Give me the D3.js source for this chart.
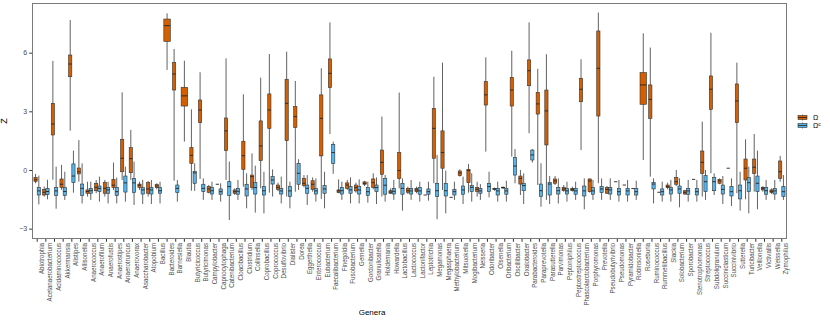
<!DOCTYPE html>
<html>
<head>
<meta charset="utf-8">
<script src="https://cdn.jsdelivr.net/npm/d3@7"></script>
<style>
  body { margin: 0; background: #fff; }
  svg { display: block; font-family: "Liberation Sans", Arial, sans-serif; }
</style>
</head>
<body>
<div class="canva"></div>
<script>
const genera = ["Abiotrophia","Acetanaerobacterium","Acidaminococcus","Akkermansia","Alistipes","Allisonella",
  "Anaerococcus","Anaerofilum","Anaerofustis","Anaerostipes","Anaerotruncus","Anaerovorax","Asaccharobacter",
  "Atopobium","Bacillus","Bacteroides","Barnesiella","Blautia","Butyricicoccus","Butyricimonas","Campylobacter",
  "Capnocytophaga","Catenibacterium","Cloacibacillus","Clostridium","Collinsella","Coprobacillus","Coprococcus",
  "Desulfovibrio","Dialister","Dorea","Eggerthella","Enterococcus","Eubacterium","Faecalibacterium","Finegoldia",
  "Fusobacterium","Gemella","Gordonibacter","Granulicatella","Holdemania","Howardella","Lactobacillus",
  "Lactococcus","Lactonifactor","Leptotrichia","Megamonas","Megasphaera","Methylobacterium","Mitsuokella",
  "Mogibacterium","Neisseria","Odoribacter","Olsenella","Oribacterium","Oscillibacter","Oxalobacter",
  "Parabacteroides","Paraprevotella","Parasutterella","Parvimonas","Peptoniphilus","Peptostreptococcus",
  "Phascolarctobacterium","Porphyromonas","Prevotella","Pseudobutyrivibrio","Pseudomonas","Pyramidobacter",
  "Robinsoniella","Roseburia","Ruminococcus","Rummeliibacillus","Slackia","Solobacterium","Sporobacter",
  "Stenotrophomonas","Streptococcus","Subdoligranulum","Succiniclasticum","Succinivibrio","Sutterella",
  "Turicibacter","Veillonella","Victivallis","Weissella","Zymophilus"];

// [lower whisker, q1, median, q3, upper whisker]; null = genus not seen in that group
const omega = [
  [-0.68,-0.58,-0.5,-0.38,-0.2], [-1.36,-1.28,-1.14,-0.99,-0.85], [-0.5,1.79,2.35,3.41,5.58],
  [-1.02,-0.89,-0.73,-0.46,0.26], [2.01,4.77,5.42,5.88,7.67], [-0.6,-0.2,-0.09,0.1,1.53],
  [-1.36,-1.19,-1.1,-1.02,-0.6], [-1.19,-1.06,-0.89,-0.68,-0.51], [-1.36,-1.19,-0.94,-0.63,-0.51],
  [-1.02,-0.89,-0.78,-0.48,0.38], [-0.51,-0.09,0.6,1.57,3.97], [-0.51,-0.14,0.58,1.14,2.05],
  [-1.02,-0.89,-0.78,-0.72,-0.6], [-1.36,-1.19,-0.97,-0.65,-0.56], [-0.99,-0.9,-0.82,-0.75,-0.68],
  [5.12,6.58,7.38,7.72,8.01], [-0.55,4.09,4.91,5.49,6.19], [1.45,3.27,3.79,4.23,5.59],
  [-1.06,0.34,0.75,1.14,3.1], [-0.46,2.42,3.07,3.58,5.0], [-1.19,-1.14,-0.97,-0.85,-0.77],
  [-0.73,-0.73,-0.73,-0.73,-0.73], [-0.51,0.99,2.0,2.66,5.71], [-1.28,-1.19,-1.11,-1.02,-0.94],
  [-0.85,0.03,0.73,1.47,3.87], [-1.02,-0.89,-0.34,-0.26,0.85], [-0.94,0.48,1.23,2.51,4.72],
  [-1.16,2.13,3.07,3.89,5.93], [-1.09,-0.99,-0.89,-0.77,-0.65], [-1.36,1.5,3.41,4.64,6.05],
  [-1.11,2.18,2.73,3.24,4.55], [-0.89,-0.8,-0.68,-0.43,-0.26], [-1.11,-0.99,-0.73,-0.55,-0.38],
  [-1.48,0.72,2.64,3.84,5.2], [1.84,4.21,4.94,5.68,7.55], [-1.19,-1.16,-1.07,-1.02,-0.48],
  [-1.02,-0.94,-0.77,-0.66,-0.51], [-1.16,-1.07,-0.9,-0.77,-0.65], [-0.82,-0.73,-0.68,-0.61,-0.56],
  [-0.99,-0.89,-0.65,-0.46,-0.17], [-1.36,-0.22,0.39,1.02,2.73], [-1.23,-1.19,-1.13,-1.06,-0.94],
  [-0.94,-0.43,-0.03,0.89,3.96], [-1.23,-1.14,-1.06,-0.94,-0.85], [-1.19,-1.11,-1.02,-0.94,-0.85],
  [-1.28,-1.28,-1.28,-1.28,-1.28], [-0.68,0.6,2.13,3.15,4.77], [-1.02,0.09,0.89,2.0,5.49],
  [-1.4,-1.4,-1.4,-1.4,-1.4], [-0.34,-0.29,-0.15,-0.05,0.03], [-1.16,-0.65,-0.03,0.03,0.31],
  [-1.36,-1.09,-0.99,-0.9,-0.6], [0.94,3.32,3.84,4.52,5.76], [-1.06,-1.0,-0.97,-0.94,-0.9],
  [-0.97,-0.92,-0.9,-0.88,-0.85], [0.68,3.27,4.09,4.74,6.1], [-1.28,-0.72,-0.43,-0.31,0],
  [1.88,4.31,5.08,5.63,7.55], [-0.77,2.86,3.38,3.97,5.17], [-1.53,1.28,3.02,4.09,5.92],
  [-0.77,-0.68,-0.56,-0.46,-0.31], [-1.11,-1.06,-0.97,-0.9,-0.77], [-1.11,-1.06,-0.99,-0.94,-0.85],
  [1.02,3.49,4.13,4.69,5.66], [-1.16,-1.11,-0.56,-0.46,-0.43], [-0.68,2.76,5.2,7.11,8.05],
  [-1.23,-1.19,-0.99,-0.9,-0.82], [-0.6,-0.6,-0.6,-0.6,-0.6], [-0.77,-0.77,-0.77,-0.77,-0.77],
  [-0.95,-0.95,-0.95,-0.95,-0.95], [0.51,3.36,4.35,4.98,6.99], [-0.34,2.64,3.61,4.35,6.26],
  [-1.14,-1.14,-1.14,-1.14,-1.14], [-0.99,-0.9,-0.85,-0.77,-0.65], [-0.82,-0.73,-0.6,-0.39,0],
  [-1.28,-1.23,-1.14,-1.06,-1.02], [-0.48,-0.48,-0.48,-0.48,-0.48], [-1.36,-0.17,0.39,0.97,2.47],
  [-0.17,3.1,4.13,4.81,7.02], [-0.73,-0.68,-0.56,-0.48,-0.43], [0.09,0.09,0.09,0.09,0.09],
  [-1.19,2.42,3.53,4.4,5.49], [-1.5,-0.51,0.09,0.56,1.57], [-1.11,-0.17,0.14,0.56,1.84],
  [-1.11,-1.02,-0.94,-0.89,-0.82], [-1.23,-1.16,-1.09,-1.02,-0.94], [-0.6,-0.43,-0.09,0.46,0.72]
];

const omegaC = [
  [-1.76,-1.28,-1.07,-0.9,-0.29], [-1.5,-1.26,-1.1,-0.95,-0.5], [-1.98,-1.3,-1.07,-0.9,0.17],
  [-1.53,-1.31,-1.1,-0.9,-0.09], [-1.16,-0.65,-0.31,0.31,0.99], [-1.71,-1.3,-0.94,-0.72,0.34],
  [-1.53,-1.19,-1.06,-0.94,-0.6], [-1.62,-1.11,-0.94,-0.82,-0.34], [-1.71,-1.19,-1.02,-0.89,-0.6],
  [-1.71,-1.3,-1.11,-0.89,-0.39], [-1.62,-1.13,-0.66,-0.31,0.17], [-1.79,-1.16,-0.66,-0.43,0.43],
  [-1.74,-1.23,-1.02,-0.89,-0.51], [-1.74,-1.23,-1.02,-0.9,-0.51], [-1.71,-1.19,-1.06,-0.9,-0.6],
  null, [-1.62,-1.16,-0.94,-0.77,-0.51], null,
  [-1.07,-0.68,-0.15,-0.07,0.34], [-1.53,-1.11,-0.94,-0.73,-0.43], [-1.53,-1.23,-1.06,-0.89,-0.6],
  [-1.62,-1.24,-1.11,-0.97,-0.68], [-2.56,-1.3,-0.85,-0.6,0.43], [-1.53,-1.24,-1.09,-0.95,-0.51],
  [-1.96,-1.33,-0.97,-0.73,-0.17], [-2.18,-1.23,-0.9,-0.65,0.22], [-2.22,-1.28,-1.06,-0.85,-0.09],
  [-1.36,-0.72,-0.51,-0.34,0.03], [-1.71,-1.23,-1.07,-0.94,-0.34], [-1.96,-1.36,-1.07,-0.85,-0.6],
  [-1.02,-0.73,-0.17,0.34,0.55], [-1.79,-1.19,-0.94,-0.77,-0.26], [-1.62,-1.23,-1.07,-0.94,-0.43],
  [-1.96,-1.19,-0.97,-0.8,-0.09], [-0.2,0.34,0.89,1.31,1.45], [-1.53,-1.23,-1.06,-0.9,-0.6],
  [-1.71,-1.19,-1.02,-0.85,-0.38], [-1.71,-1.23,-1.02,-0.85,-0.48], [-1.67,-1.3,-1.11,-0.9,-0.6],
  [-1.74,-1.11,-0.9,-0.77,-0.38], [-1.62,-1.24,-0.78,-0.43,-0.26], [-1.53,-1.23,-1.09,-0.94,-0.51],
  [-2.08,-1.24,-0.94,-0.68,-0.43], [-1.53,-1.23,-1.07,-0.94,-0.51], [-1.62,-1.24,-1.07,-0.9,-0.6],
  [-1.57,-1.24,-1.11,-0.97,-0.6], [-2.52,-1.36,-1.06,-0.68,0.77], [-2.22,-1.33,-1.06,-0.68,-0.03],
  [-1.53,-1.28,-1.11,-0.99,-0.6], [-1.74,-1.24,-1.02,-0.82,-0.34], [-1.62,-1.11,-0.89,-0.8,-0.17],
  [-1.53,-1.19,-1.07,-0.94,-0.72], [-1.4,-1.11,-0.85,-0.68,-0.09], [-1.62,-1.28,-1.07,-0.94,-0.6],
  [-1.62,-1.24,-1.07,-0.94,-0.55], [-0.68,-0.26,0.2,0.65,1.07], [-1.74,-1.06,-0.8,-0.68,-0.17],
  [0.38,0.51,0.77,1.02,1.07], [-1.88,-1.36,-1.06,-0.72,0.34], [-1.74,-1.28,-0.72,-0.65,-0.31],
  [-1.71,-1.23,-1.06,-0.89,-0.43], [-1.62,-1.23,-1.07,-0.94,-0.6], [-1.53,-1.24,-1.07,-0.94,-0.6],
  [-2.01,-1.33,-1.07,-0.82,-0.43], [-1.53,-1.24,-1.07,-0.9,-0.51], [-1.53,-1.16,-0.97,-0.85,-0.43],
  [-1.53,-1.23,-1.02,-0.89,-0.43], [-1.62,-1.28,-1.11,-0.94,-0.51], [-1.62,-1.28,-1.07,-0.94,-0.51],
  [-1.53,-1.28,-1.11,-0.95,-0.55], null, [-1.71,-0.97,-0.72,-0.65,-0.43],
  [-1.62,-1.28,-1.11,-0.97,-0.6], [-1.62,-1.23,-1.02,-0.9,-0.51], [-1.91,-1.19,-0.97,-0.82,-0.43],
  [-1.62,-1.24,-1.07,-0.94,-0.51], [-1.62,-1.28,-1.11,-0.94,-0.51], [-1.53,-1.11,-0.6,-0.29,0],
  [-1.28,-1.06,-0.6,-0.39,-0.17], [-1.74,-1.23,-0.99,-0.77,-0.31], [-1.84,-1.33,-1.11,-0.85,-0.43],
  [-2.08,-1.48,-1.06,-0.77,-0.09], [-2.22,-1.11,-0.65,-0.38,0.17], [-2.01,-1.11,-0.68,-0.31,0.99],
  [-1.53,-1.24,-1.06,-0.89,-0.51], [-1.53,-1.23,-1.07,-0.95,-0.51], [-1.53,-1.36,-1.11,-0.85,-0.26]
];

const groups = ["omega", "omegaC"];
const groupLabels = ["Ω", "Ω"];   // second one gets a superscript c
const yTicks = [-3, 0, 3, 6];

const width = 830, height = 320;
const panel = {left: 32, right: 787, top: 3, bottom: 239};

const svg = d3.select(".canva").append("svg")
    .attr("width", width)
    .attr("height", height);

const x = d3.scaleBand().domain(genera)
    .range([panel.left, panel.right])
    .paddingInner(0).paddingOuter(0.1);
const y = d3.scaleLinear().domain([-3.53, 8.54]).range([panel.bottom, panel.top]);
const colour = d3.scaleOrdinal().domain(groups).range(["#D55E00", "#56B4E9"]);

const bw = x.bandwidth();

// one row per box; a lone box takes the whole dodge width, like ggplot does
const rows = [];
genera.forEach((g, i) => {
  const both = omega[i] && omegaC[i];
  [omega[i], omegaC[i]].forEach((s, k) => {
    if (!s) return;
    rows.push({
      genus: g, group: groups[k], s: s,
      cx: x(g) + bw / 2 + (both ? (k === 0 ? -1 : 1) * 0.1875 * bw : 0),
      w: (both ? 0.375 : 0.75) * bw
    });
  });
});

// panel border
svg.append("rect")
    .attr("x", panel.left + 0.5).attr("y", panel.top + 0.5)
    .attr("width", panel.right - panel.left - 1).attr("height", panel.bottom - panel.top - 1)
    .attr("fill", "#fff").attr("stroke", "#7a7a7a").attr("stroke-width", 1);

const box = svg.append("g").selectAll("g").data(rows).enter().append("g");

box.append("line")
    .attr("x1", d => d.cx).attr("x2", d => d.cx)
    .attr("y1", d => y(d.s[0])).attr("y2", d => y(d.s[4]))
    .attr("stroke", "#3a3a3a").attr("stroke-width", 0.8);

box.append("rect")
    .attr("x", d => d.cx - d.w / 2)
    .attr("y", d => y(d.s[3]))
    .attr("width", d => d.w)
    .attr("height", d => y(d.s[1]) - y(d.s[3]))
    .attr("fill", d => colour(d.group))
    .attr("stroke", "#333").attr("stroke-width", 0.6);

box.append("line")
    .attr("x1", d => d.cx - d.w / 2).attr("x2", d => d.cx + d.w / 2)
    .attr("y1", d => y(d.s[2])).attr("y2", d => y(d.s[2]))
    .attr("stroke", "#222").attr("stroke-width", 0.9);

// y axis
const yAxis = svg.append("g")
    .attr("transform", `translate(${panel.left},0)`)
    .call(d3.axisLeft(y).tickValues(yTicks).tickSize(2.75).tickPadding(2).tickFormat(d3.format("d")));
yAxis.select(".domain").remove();
yAxis.selectAll("line").attr("stroke", "#333");
yAxis.selectAll("text").attr("fill", "#4d4d4d").style("font-size", "7px");

// x axis
const xAxis = svg.append("g")
    .attr("transform", `translate(0,${panel.bottom})`)
    .call(d3.axisBottom(x).tickSize(2.75));
xAxis.select(".domain").remove();
xAxis.selectAll("line").attr("stroke", "#333");
xAxis.selectAll("text")
    .attr("x", null).attr("y", null).attr("dy", null)
    .attr("transform", "translate(0,4) rotate(-90) scale(0.88,1)")
    .attr("dy", 6.6)
    .attr("text-anchor", "end")
    .attr("fill", "#4d4d4d")
    .style("font-size", "7px");

// axis titles
svg.append("text")
    .attr("x", 372).attr("y", 315)
    .attr("text-anchor", "middle")
    .style("font-size", "8px")
    .text("Genera");

svg.append("text")
    .attr("transform", `translate(7,${(panel.top + panel.bottom) / 2}) rotate(-90)`)
    .attr("text-anchor", "middle")
    .style("font-size", "9px")
    .text("Ẑ");

// legend
const legend = svg.append("g").attr("transform", "translate(798,115)");
const key = legend.selectAll("g").data(groups).enter().append("g")
    .attr("transform", (d, i) => `translate(0,${i * 8})`);
key.append("line")
    .attr("x1", 4.5).attr("x2", 4.5).attr("y1", -0.5).attr("y2", 5.5)
    .attr("stroke", "#333").attr("stroke-width", 0.6);
key.append("rect")
    .attr("x", 0).attr("y", 0.5).attr("width", 9).attr("height", 4)
    .attr("fill", d => colour(d)).attr("stroke", "#333").attr("stroke-width", 0.6);
key.append("line")
    .attr("x1", 0).attr("x2", 9).attr("y1", 2.5).attr("y2", 2.5)
    .attr("stroke", "#222").attr("stroke-width", 0.8);
const keyText = key.append("text")
    .attr("x", 15).attr("y", 5)
    .style("font-size", "7px")
    .text((d, i) => groupLabels[i]);
keyText.filter((d, i) => i === 1).append("tspan")
    .attr("dy", -2.5).style("font-size", "5px").text("c");
</script>
</body>
</html>
